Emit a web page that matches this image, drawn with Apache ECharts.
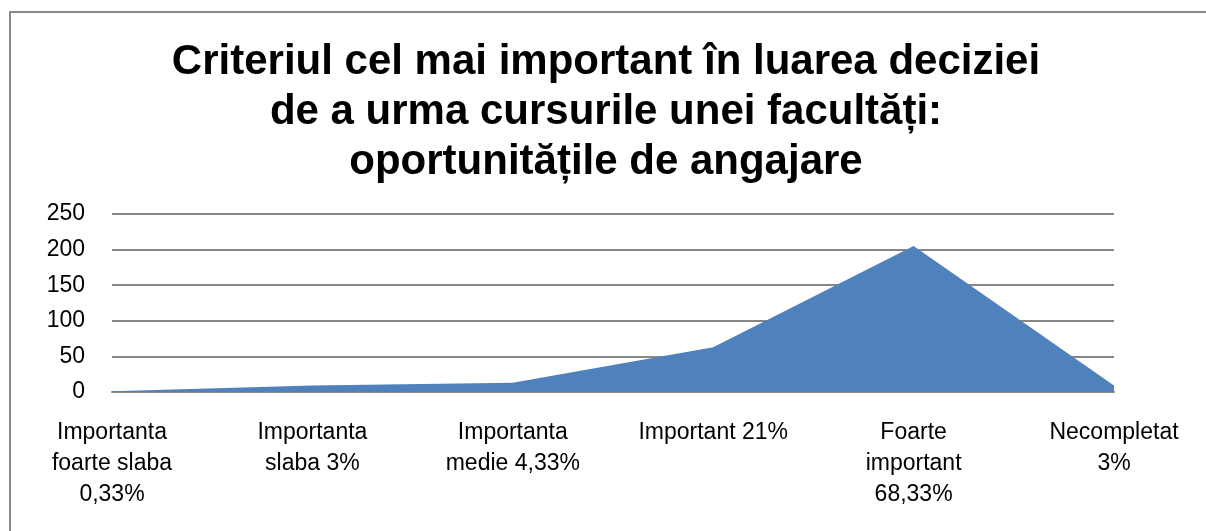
<!DOCTYPE html>
<html>
<head>
<meta charset="utf-8">
<script src="https://cdn.jsdelivr.net/npm/echarts@6/dist/echarts.min.js"></script>
<style>
  html, body { margin: 0; padding: 0; background: #fff; }
  #chart { width: 1206px; height: 531px; position: relative; }
  .frame { position: absolute; left: 9px; top: 11px; right: 0; bottom: 0;
           border-left: 2px solid #898989; border-top: 2px solid #898989; pointer-events: none; }
</style>
</head>
<body>
<div id="chart"></div>
<div class="frame"></div>
<script>
// date
const categories = [
  "Importanta\nfoarte slaba\n0,33%",
  "Importanta\nslaba 3%",
  "Importanta\nmedie 4,33%",
  "Important 21%",
  "Foarte\nimportant\n68,33%",
  "Necompletat\n3%"
]
const values = [1, 9, 13, 63, 205, 9]
const yTicks = [0, 50, 100, 150, 200, 250]

const titleText = "Criteriul cel mai important în luarea deciziei\nde a urma cursurile unei facultăți:\noportunitățile de angajare"

const chart = echarts.init(document.getElementById("chart"))
const font = "'Liberation Sans', Arial, sans-serif"

const option = {
  animation: false,
  title: {
    text: titleText,
    left: 601,
    top: 32,
    textAlign: "center",
    textStyle: {
      fontFamily: font,
      fontSize: 42,
      fontWeight: "bold",
      color: "#000",
      lineHeight: 50
    }
  },
  grid: { left: 112, right: 92, top: 214, bottom: 139 },
  xAxis: {
    type: "category",
    data: categories,
    boundaryGap: false,
    axisLine: { lineStyle: { color: "#878787", width: 2 } },
    axisTick: { show: false },
    axisLabel: {
      interval: 0,
      margin: 25,
      color: "#000",
      fontFamily: font,
      fontSize: 23,
      lineHeight: 31,
      align: "center"
    }
  },
  yAxis: {
    type: "value",
    min: yTicks[0],
    max: yTicks[yTicks.length - 1],
    interval: 50,
    axisLine: { show: false },
    axisTick: { show: false },
    splitLine: { lineStyle: { color: "#878787", width: 2 } },
    axisLabel: {
      margin: 27,
      color: "#000",
      fontFamily: font,
      fontSize: 23
    }
  },
  series: [
    {
      type: "line",
      data: values,
      symbol: "none",
      lineStyle: { width: 0 },
      areaStyle: { color: "#4f81bd", opacity: 1 },
      z: 1
    }
  ]
}
chart.setOption(option)
window.addEventListener("resize", () => {
  chart.resize()
})
</script>
</body>
</html>
